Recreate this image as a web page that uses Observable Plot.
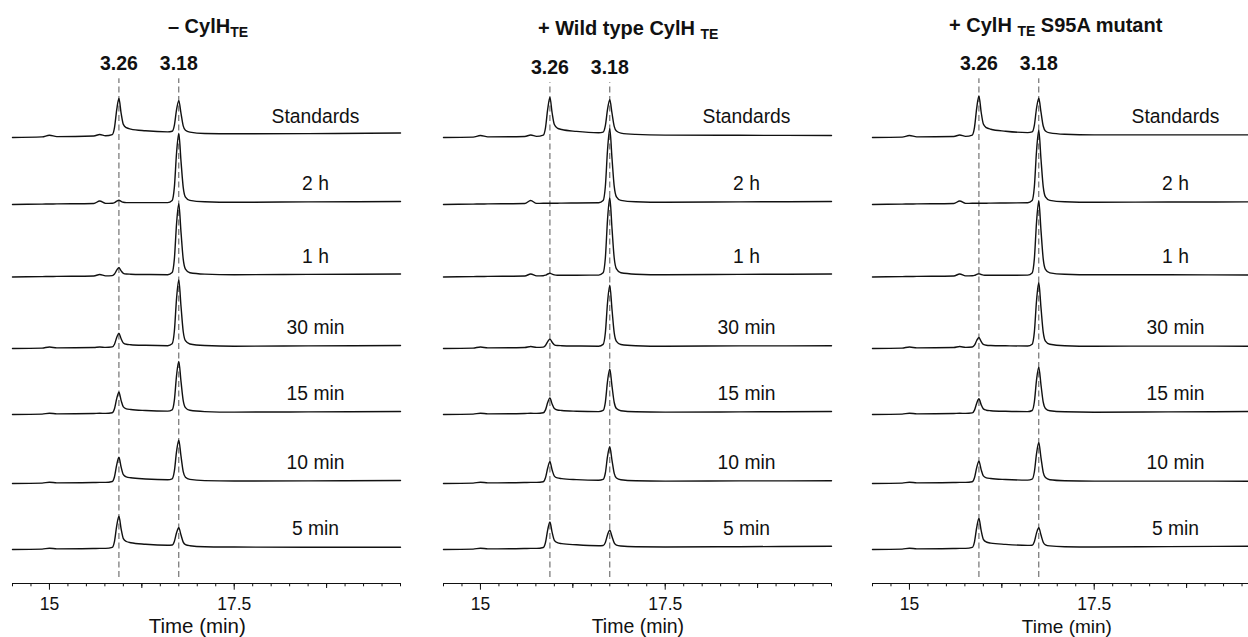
<!DOCTYPE html>
<html><head><meta charset="utf-8">
<script src="https://cdn.jsdelivr.net/npm/d3@7"></script>
<script src="https://cdn.jsdelivr.net/npm/@observablehq/plot@0.6"></script>
<style>
html,body{margin:0;padding:0;background:#fff;overflow:hidden;}
#chart{position:relative;width:1248px;height:637px;overflow:hidden;font-family:"Liberation Sans",Arial,Helvetica,sans-serif;color:#111;}
.panel{position:absolute;top:0;width:420px;height:637px;}
.title{position:absolute;line-height:24px;font-size:20px;font-weight:bold;white-space:nowrap;transform:translateX(-50%);}
.title .sub{font-size:14px;position:relative;top:4px;}
.panel svg{position:absolute;top:40px;left:0;}
</style></head><body><div id="chart"></div>
<script>
// ---- data ----
const times = [14.5, 14.9, 15.0, 15.1, 15.6, 15.68, 15.76, 15.85, 15.88, 15.91, 15.94, 15.97, 16.0, 16.04, 16.1, 16.3, 16.6, 16.66, 16.69, 16.72, 16.75, 16.78, 16.81, 16.84, 16.9, 17.1, 17.5, 18.5, 19.75];
const samples = ["Standards", "2 h", "1 h", "30 min", "15 min", "10 min", "5 min"];
const peakTimes = [15.94, 16.75];
const peakLabels = ["3.26", "3.18"];
const majorTicks = [15, 17.5];
const majorTickLabels = ["15", "17.5"];
const titleParts = [["– CylH", "TE", ""], ["+ Wild type CylH ", "TE", ""], ["+ CylH ", "TE", " S95A mutant"]];
const axisLabel = "Time (min)";

// signal (relative units) per sample, in the order of `samples`
const tracesNoEnzyme = [
  [0, .6, 2.3, .9, 1.5, 3, 1.7, 2.9, 9.9, 27.7, 39, 24.2, 13.1, 9.8, 8.4, 6.7, 5.6, 6.2, 12.2, 27.9, 36.9, 24.1, 11.6, 7.2, 5.4, 4, 3.7, 3.9, 4.5],
  [0, .4, .5, .6, 1, 3.5, 1.1, 1.3, 1.9, 3.3, 4.3, 3.1, 2.2, 1.9, 1.9, 1.9, 1.9, 4, 17.1, 51.7, 71, 43.4, 17.2, 7.4, 4.1, 2.7, 2.2, 2.6, 3],
  [0, .4, .5, .6, 1, 2.5, 1.1, 1.4, 3, 6.8, 9.3, 6.1, 3.7, 3, 2.8, 2.5, 2.3, 4.4, 17.9, 53.4, 73.3, 44.9, 17.8, 7.9, 4.3, 2.9, 2.3, 2.6, 3],
  [0, .4, 1.5, .6, 1, 1.5, 1.1, 1.6, 4.3, 11, 15.3, 9.7, 5.5, 4.2, 3.8, 3.2, 2.8, 4.7, 17.2, 50.1, 68.6, 42.2, 17, 7.8, 4.5, 3, 2.3, 2.6, 3],
  [0, .4, 1.3, .6, 1, 1.2, 1.1, 1.8, 5.8, 15.9, 22.3, 13.9, 7.6, 5.7, 5, 4, 3.4, 4.7, 14.2, 39.1, 53.1, 33.1, 13.9, 6.9, 4.2, 2.9, 2.4, 2.6, 3],
  [0, .4, 1.3, .6, 1, 1.1, 1.1, 2, 6.7, 18.7, 26.3, 16.3, 8.8, 6.6, 5.7, 4.5, 3.7, 4.7, 12.3, 32.1, 43.3, 27.3, 11.9, 6.3, 4.1, 2.9, 2.5, 2.6, 3],
  [0, .4, 1.3, .6, 1, 1.1, 1.1, 2.2, 8.2, 23.6, 33.3, 20.5, 10.9, 8, 6.8, 5.3, 4.3, 4.5, 8.1, 16.7, 21.7, 14.5, 7.4, 4.9, 3.8, 2.8, 2.5, 2.2, 2.3]
];
const tracesWildType = [
  [0, .4, 2, .6, 1, 2.5, 1.1, 2.4, 9.7, 28.3, 40, 24.5, 12.9, 9.4, 8, 6.1, 4.8, 5.4, 11.8, 28.3, 37.7, 24.3, 11.1, 6.4, 4.4, 3.1, 2.4, 2.2, 2],
  [0, .4, .5, .6, 1, 4, 1.1, 1.2, 1.2, 1.2, 1.3, 1.3, 1.3, 1.3, 1.4, 1.5, 1.7, 3.9, 18, 55, 75.7, 46.1, 18.1, 7.7, 4.1, 2.7, 2.2, 2.6, 3],
  [0, .4, .5, .6, 1, 3, 1.1, 1.3, 1.8, 3, 3.8, 2.8, 2.1, 1.8, 1.8, 1.8, 1.9, 4.2, 19, 57.9, 79.6, 48.6, 19, 8.1, 4.2, 2.8, 2.2, 2.6, 3],
  [0, .4, 1.5, .6, 1, 2, 1.1, 1.4, 3, 6.9, 9.4, 6.2, 3.7, 3, 2.8, 2.5, 2.3, 4.1, 15.7, 46.3, 63.4, 39, 15.6, 7.1, 4, 2.8, 2.3, 2.6, 2.7],
  [0, .4, 1.3, .6, 1, 1.2, 1.1, 1.7, 4.6, 11.9, 16.6, 10.5, 5.9, 4.5, 4, 3.3, 2.9, 4.1, 12.2, 33.6, 45.6, 28.4, 12, 6, 3.8, 2.7, 2.4, 2.6, 3],
  [0, .4, 1.3, .6, 1, 1.1, 1.1, 1.8, 5.7, 15.5, 21.7, 13.5, 7.4, 5.6, 4.9, 3.9, 3.3, 4.1, 10.5, 27.3, 36.7, 23.2, 10.2, 5.5, 3.7, 2.7, 2.4, 2.6, 2.7],
  [0, .4, 1.3, .6, 1, 1.1, 1.1, 2, 7, 19.6, 27.6, 17.1, 9.2, 6.8, 5.9, 4.7, 3.8, 4, 7, 14.8, 19.3, 12.9, 6.6, 4.4, 3.5, 2.7, 2.5, 2.8, 3.3]
];
const tracesS95A = [
  [0, .4, 2, .6, 1, 2.5, 1.1, 2.4, 10.1, 29.4, 41.6, 25.5, 13.4, 9.8, 8.3, 6.3, 4.9, 5.6, 12.2, 29.5, 39.3, 25.3, 11.5, 6.6, 4.6, 3.2, 2.6, 2.6, 2.6],
  [0, .4, .5, .6, 1, 3.5, 1.1, 1.2, 1.2, 1.2, 1.3, 1.3, 1.3, 1.3, 1.4, 1.5, 1.7, 3.9, 17.7, 54, 74.3, 45.3, 17.8, 7.6, 4.1, 2.7, 2.2, 2.5, 2.6],
  [0, .4, .5, .6, 1, 3, 1.1, 1.3, 1.6, 2.6, 3.3, 2.5, 1.9, 1.7, 1.7, 1.7, 1.9, 4, 18.1, 55.3, 76, 46.4, 18.2, 7.7, 4.1, 2.7, 2.2, 2.2, 2],
  [0, .4, 1.5, .6, 1, 2, 1.1, 1.5, 3.3, 8, 11, 7.1, 4.2, 3.3, 3, 2.7, 2.5, 4.3, 16.4, 48.2, 66, 40.6, 16.3, 7.4, 4.2, 2.8, 2.3, 2.4, 2.3],
  [0, .4, 1.3, .6, 1, 1.2, 1.1, 1.6, 4.4, 11.3, 15.7, 9.9, 5.6, 4.3, 3.8, 3.2, 2.9, 4, 12.5, 34.9, 47.4, 29.5, 12.3, 6.1, 3.8, 2.7, 2.3, 2.6, 3],
  [0, .4, 1.3, .6, 1, 1.1, 1.1, 1.8, 5.8, 15.9, 22.3, 13.9, 7.6, 5.7, 5, 4, 3.4, 4.3, 11.5, 30.2, 40.7, 25.7, 11.2, 5.9, 3.8, 2.8, 2.4, 2.4, 2.3],
  [0, .4, 1.3, .6, 1, 1.1, 1.1, 2.1, 7.7, 22, 31, 19.1, 10.2, 7.5, 6.4, 5.1, 4.1, 4.3, 7.8, 16.6, 21.7, 14.5, 7.3, 4.7, 3.6, 2.8, 2.5, 2.9, 3.3]
];

// ---- layout ----
const FONT = '"Liberation Sans", Arial, Helvetica, sans-serif';
const rowOffset = [412, 345, 272.5, 201, 135, 66, 0];
const yDomain = [-34, 509];
const xDomain = [14.5, 19.75];
const minorTicks = d3.range(14.5, 19.76, 0.25);
const midTicks = [16.25, 18.75];

const panels = [
  {traces: tracesNoEnzyme, title: titleParts[0], left: 0, titleX: 208, titleTop: 13.5, headerDy: 0, labelFont: 20.5, labelX: 17.0},
  {traces: tracesWildType, title: titleParts[1], left: 430.7, titleX: 197.5, titleTop: 16, headerDy: 4, labelFont: 19.5, labelX: 17.13},
  {traces: tracesS95A, title: titleParts[2], left: 859.7, titleX: 196, titleTop: 12.8, headerDy: 0, labelFont: 19, labelX: 17.13}
];

const chart = document.getElementById("chart");
for (const p of panels) {
  const div = document.createElement("div");
  div.className = "panel";
  div.style.left = p.left + "px";
  const t = document.createElement("div");
  t.className = "title";
  t.style.left = p.titleX + "px";
  t.style.top = p.titleTop + "px";
  t.appendChild(document.createTextNode(p.title[0]));
  const s = document.createElement("span");
  s.className = "sub";
  s.textContent = p.title[1];
  t.appendChild(s);
  if (p.title[2]) t.appendChild(document.createTextNode(p.title[2]));
  div.appendChild(t);

  const rows = p.traces.flatMap((vals, r) => vals.map((v, i) => ({sample: samples[r], t: times[i], y: v + rowOffset[r]})));

  const svg = Plot.plot({
    width: 420, height: 597,
    marginLeft: 12, marginRight: 20, marginTop: 0, marginBottom: 54,
    style: {fontFamily: FONT, fontSize: "17.5px", color: "#111", background: "transparent", overflow: "visible"},
    x: {domain: xDomain, label: null},
    y: {domain: yDomain, axis: null},
    marks: [
      Plot.ruleX(peakTimes, {y1: -28, y2: 470.7 - p.headerDy, stroke: "#555", strokeWidth: 1, strokeDasharray: "6,3.5"}),
      Plot.line(rows, {x: "t", y: "y", z: "sample", curve: "monotone-x", stroke: "#111", strokeWidth: 1.4}),
      Plot.text(samples, {x: () => 18.6, y: (d, i) => rowOffset[i] + 20.5, text: d => d, fontSize: 19.3, fill: "#111"}),
      Plot.text(peakLabels, {x: (d, i) => peakTimes[i], y: () => 486 - p.headerDy, text: d => d, fontSize: 19.5, fontWeight: "bold", fill: "#111"}),
      Plot.ruleY([yDomain[0]], {stroke: "#111", strokeWidth: 1.2}),
      Plot.axisX(minorTicks, {tickSize: 3.3, tickFormat: () => "", label: null}),
      Plot.axisX(midTicks, {tickSize: 5, tickFormat: () => "", label: null}),
      Plot.axisX(majorTicks, {tickSize: 6.7, tickPadding: 7, tickFormat: (d, i) => majorTickLabels[i], label: null}),
      Plot.text([axisLabel], {x: () => p.labelX, y: () => -83.5, text: d => d, lineAnchor: "bottom", fontSize: p.labelFont, fill: "#111"})
    ]
  });
  div.appendChild(svg);
  chart.appendChild(div);
}
</script></body></html>
